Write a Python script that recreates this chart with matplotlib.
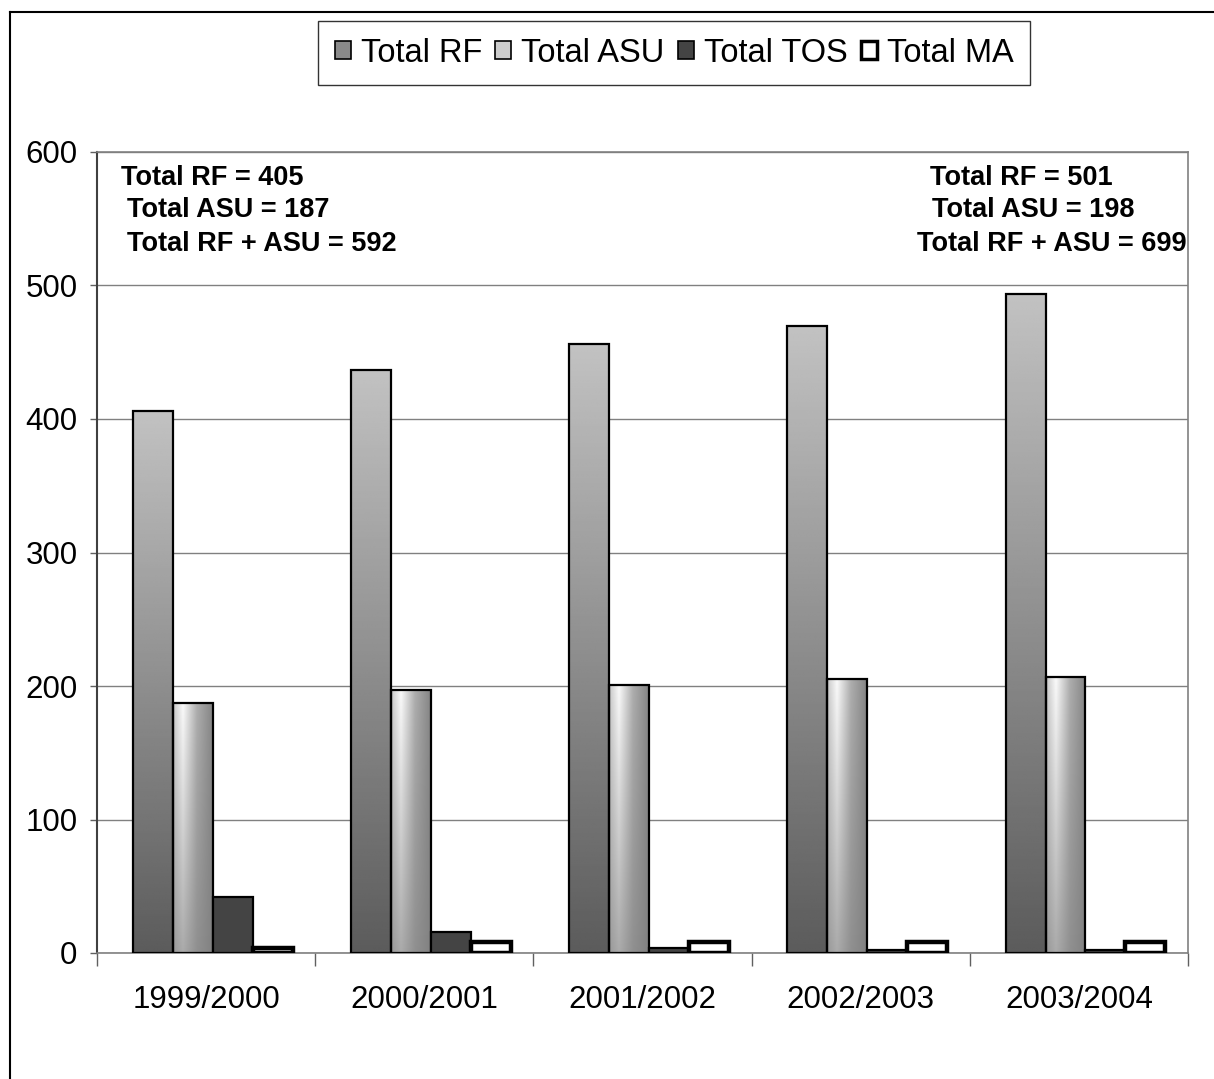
import numpy as np
import matplotlib
matplotlib.use("Agg")
from matplotlib import pyplot as plt
from matplotlib.patches import Patch
from matplotlib.lines import Line2D

plt.rcParams['font.family'] = ['Liberation Sans', 'DejaVu Sans']

years = ["1999/2000", "2000/2001", "2001/2002", "2002/2003", "2003/2004"]
total_rf = [406, 437, 456, 470, 494]
total_asu = [187, 197, 201, 205, 207]
total_tos = [42, 16, 4, 2, 2]
total_ma = [4, 8, 8, 8, 8]
series_names = ["Total RF", "Total ASU", "Total TOS", "Total MA"]

left_notes = ["Total RF = 405", "Total ASU = 187", "Total RF + ASU = 592"]
right_notes = ["Total RF = 501", "Total ASU = 198", "Total RF + ASU = 699"]

W, H = 1214, 1079
fig = plt.figure(figsize=(W / 100, H / 100), dpi=100)
ax = fig.add_axes([97 / W, 126 / H, 1091 / W, 801 / H])

# outer frame (only top/left visible in the original)
fig.add_artist(Line2D([10 / W, 10 / W], [0, 1 - 12 / H], color='black', lw=1.5))
fig.add_artist(Line2D([10 / W, 1], [1 - 12 / H, 1 - 12 / H], color='black', lw=1.5))

x = np.arange(len(years))
xc = x + 0.03
w = 0.183

# gradient images
n = 256
rf_img = np.linspace(0.36, 0.76, n).reshape(n, 1)  # bottom dark -> top light
hx = np.interp(np.linspace(0, 1, n), [0, 0.25, 0.6, 1.0], [0.78, 0.98, 0.68, 0.52])
vy = np.linspace(0, 1, n).reshape(n, 1)
asu_img = hx[None, :] * (0.35 + 0.65 * vy) + 0.5 * (1 - (0.35 + 0.65 * vy))

bars_rf = ax.bar(xc - 1.5 * w, total_rf, w, facecolor='none', edgecolor='black', lw=1.6, zorder=4)
bars_asu = ax.bar(xc - 0.5 * w, total_asu, w, facecolor='none', edgecolor='black', lw=1.6, zorder=4)
ax.bar(xc + 0.5 * w, total_tos, w, facecolor='#444444', edgecolor='black', lw=1.6, zorder=4)
ax.bar(xc + 1.5 * w, total_ma, w, facecolor='white', edgecolor='black', lw=3.2, zorder=4)

for bars, img in [(bars_rf, rf_img), (bars_asu, asu_img)]:
    for b in bars:
        x0, y0 = b.get_x(), b.get_y()
        im = ax.imshow(img, extent=[x0, x0 + b.get_width(), y0, y0 + b.get_height()],
                       origin='lower', aspect='auto', cmap='gray', vmin=0, vmax=1,
                       interpolation='bilinear', zorder=3)
        im.set_clip_path(b)

ax.set_xlim(-0.5, len(years) - 0.5)
ax.set_ylim(0, 600)
ax.set_yticks(range(0, 601, 100))
ax.yaxis.grid(True, color='#808080', lw=1)
ax.set_axisbelow(True)

ax.set_xticks(np.arange(-0.5, len(years), 1))
ax.set_xticklabels([])
ax.set_xticks(x, minor=True)
ax.set_xticklabels(years, minor=True)
ax.tick_params(axis='x', which='major', length=9, color='#606060', width=1)
ax.tick_params(axis='x', which='minor', length=0, pad=23, labelsize=22.5)
ax.tick_params(axis='y', length=5, color='#606060', width=1, pad=9, labelsize=22.5)

for s in ['top', 'right', 'bottom']:
    ax.spines[s].set_color('#808080')
    ax.spines[s].set_linewidth(1.2)
ax.spines['left'].set_color('#404040')
ax.spines['left'].set_linewidth(1.5)

ys = [0.9675, 0.9276, 0.885]
for t, xx, yy in zip(left_notes, [0.022, 0.0275, 0.0275], ys):
    ax.text(xx, yy, t, transform=ax.transAxes, fontsize=19.5, fontweight='bold',
            va='center', ha='left', zorder=6)
for t, xx, yy in zip(right_notes, [0.7635, 0.765, 0.7516], ys):
    ax.text(xx, yy, t, transform=ax.transAxes, fontsize=19.5, fontweight='bold',
            va='center', ha='left', zorder=6)

handles = [
    Patch(facecolor='#8a8a8a', edgecolor='black', lw=1.2),
    Patch(facecolor='#cccccc', edgecolor='black', lw=1.2),
    Patch(facecolor='#444444', edgecolor='black', lw=1.2),
    Patch(facecolor='white', edgecolor='black', lw=2.5),
]
leg = fig.legend(handles, series_names, ncol=4, loc='center',
                 bbox_to_anchor=(674 / W, 1 - 53 / H), fontsize=23.5,
                 frameon=True, fancybox=False, edgecolor='black',
                 handlelength=0.5, handleheight=0.5, handletextpad=0.3,
                 columnspacing=0.4, borderpad=0.5)
leg.get_frame().set_linewidth(1)

fig.savefig("out.png", dpi=100)
